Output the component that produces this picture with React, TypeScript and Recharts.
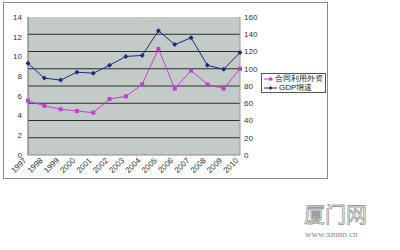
import React from "react";
import { CartesianGrid, Line, LineChart, XAxis, YAxis } from "recharts";

const years = [
  "1997", "1998", "1999", "2000", "2001", "2002", "2003",
  "2004", "2005", "2006", "2007", "2008", "2009", "2010",
];
const foreignCapital = [63, 57, 53, 51, 49, 65, 68, 82, 123, 77, 98, 82, 77, 100];
const gdpGrowth = [9.3, 7.8, 7.6, 8.4, 8.3, 9.1, 10.0, 10.1, 12.6, 11.2, 11.9, 9.1, 8.7, 10.4];
const leftTicks = [0, 2, 4, 6, 8, 10, 12, 14];
const rightTicks = [0, 20, 40, 60, 80, 100, 120, 140, 160];

const PINK = "#c23fd0";
const BLUE = "#1c2a80";
const FONT = "'Liberation Sans', Arial, sans-serif";

const data = years.map((year, i) => ({
  year,
  capital: foreignCapital[i],
  gdp: gdpGrowth[i],
}));

const SquareDot = (props: any) => {
  const { cx, cy } = props;
  if (cx == null || cy == null) return null;
  return <rect x={cx - 2} y={cy - 2} width={4} height={4} fill={PINK} />;
};

const DiamondDot = (props: any) => {
  const { cx, cy } = props;
  if (cx == null || cy == null) return null;
  return (
    <path
      d={`M${cx},${cy - 2.5}L${cx + 2.5},${cy}L${cx},${cy + 2.5}L${cx - 2.5},${cy}Z`}
      fill={BLUE}
    />
  );
};

const YearTick = (props: any) => {
  const { x, y, payload } = props;
  return (
    <g transform={`translate(${x - 3},${y + 2})`}>
      <text
        textAnchor="end"
        transform="rotate(-45)"
        fontSize={8}
        fontFamily={FONT}
        fill="#333"
        dy="0.35em"
      >
        {payload.value}
      </text>
    </g>
  );
};

const LegendBox = () => (
  <div
    style={{
      position: "absolute",
      left: 261,
      top: 73,
      border: "1px solid #555",
      background: "#fff",
      width: 65,
      height: 20,
      boxSizing: "border-box",
      fontFamily: FONT,
      fontSize: 8,
      color: "#222",
      padding: "1px 2px",
      lineHeight: "8.5px",
    }}
  >
    {[
      { name: "合同利用外资", color: PINK, square: true },
      { name: "GDP增速", color: BLUE, square: false },
    ].map((item) => (
      <div key={item.name} style={{ display: "flex", alignItems: "center", whiteSpace: "nowrap" }}>
        <svg width={13} height={8} style={{ marginRight: 2 }}>
          <line x1={0} y1={4} x2={13} y2={4} stroke={item.color} strokeWidth={1} />
          {item.square ? (
            <rect x={5} y={2.5} width={3} height={3} fill={item.color} />
          ) : (
            <path d="M6.5,2L8.5,4L6.5,6L4.5,4Z" fill={item.color} />
          )}
        </svg>
        <span>{item.name}</span>
      </div>
    ))}
  </div>
);

export default function App() {
  return (
    <div style={{ position: "absolute", left: 0, top: 0, width: 400, height: 250, background: "#fff" }}>
      <div
        style={{
          position: "absolute",
          left: 3,
          top: 2,
          width: 325,
          height: 177,
          border: "1px solid #8a8a8a",
          boxSizing: "border-box",
        }}
      />
      <LineChart
        width={400}
        height={250}
        data={data}
        margin={{ top: 17, right: 130, left: 8, bottom: 75 }}
        style={{ position: "absolute", left: 0, top: 0 }}
      >
        <CartesianGrid
          yAxisId="right"
          vertical={false}
          fill="#c3cbc9"
          stroke="#2e2e2e"
          strokeWidth={1}
          horizontalCoordinatesGenerator={({ offset }: any) =>
            rightTicks
              .slice(1, -1)
              .map((v) => offset.top + offset.height * (1 - v / 160))
          }
        />
        <XAxis
          dataKey="year"
          padding={{ left: 0, right: 0 }}
          interval={0}
          height={20}
          tickLine={false}
          tickSize={0}
          tickMargin={2}
          axisLine={{ stroke: "#8a8a8a" }}
          tick={<YearTick />}
        />
        <YAxis
          yAxisId="left"
          orientation="left"
          width={20}
          domain={[0, 14]}
          ticks={leftTicks}
          interval={0}
          tickLine={false}
          tickSize={0}
          tickMargin={6}
          axisLine={{ stroke: "#666" }}
          tick={{ fontSize: 8, fontFamily: FONT, fill: "#333" }}
        />
        <YAxis
          yAxisId="right"
          orientation="right"
          width={30}
          domain={[0, 160]}
          ticks={rightTicks}
          interval={0}
          tickLine={false}
          tickSize={0}
          tickMargin={4}
          axisLine={{ stroke: "#999" }}
          tick={{ fontSize: 8, fontFamily: FONT, fill: "#333" }}
        />
        <Line
          yAxisId="right"
          dataKey="capital"
          name="合同利用外资"
          stroke={PINK}
          strokeWidth={1}
          dot={<SquareDot />}
          isAnimationActive={false}
        />
        <Line
          yAxisId="left"
          dataKey="gdp"
          name="GDP增速"
          stroke={BLUE}
          strokeWidth={1}
          dot={<DiamondDot />}
          isAnimationActive={false}
        />
      </LineChart>
      <LegendBox />
      <div
        style={{
          position: "absolute",
          left: 304,
          top: 198,
          fontFamily: "'Noto Sans CJK SC', sans-serif",
          fontSize: 21,
          color: "#fff",
          WebkitTextStroke: "0.8px #999",
          lineHeight: "normal",
          whiteSpace: "nowrap",
        }}
      >
        厦门网
      </div>
      <div
        style={{
          position: "absolute",
          left: 305,
          top: 228.5,
          fontFamily: "'Liberation Serif', serif",
          fontSize: 9,
          color: "#888",
          lineHeight: "normal",
          whiteSpace: "nowrap",
        }}
      >
        www.xmnn.cn
      </div>
    </div>
  );
}
